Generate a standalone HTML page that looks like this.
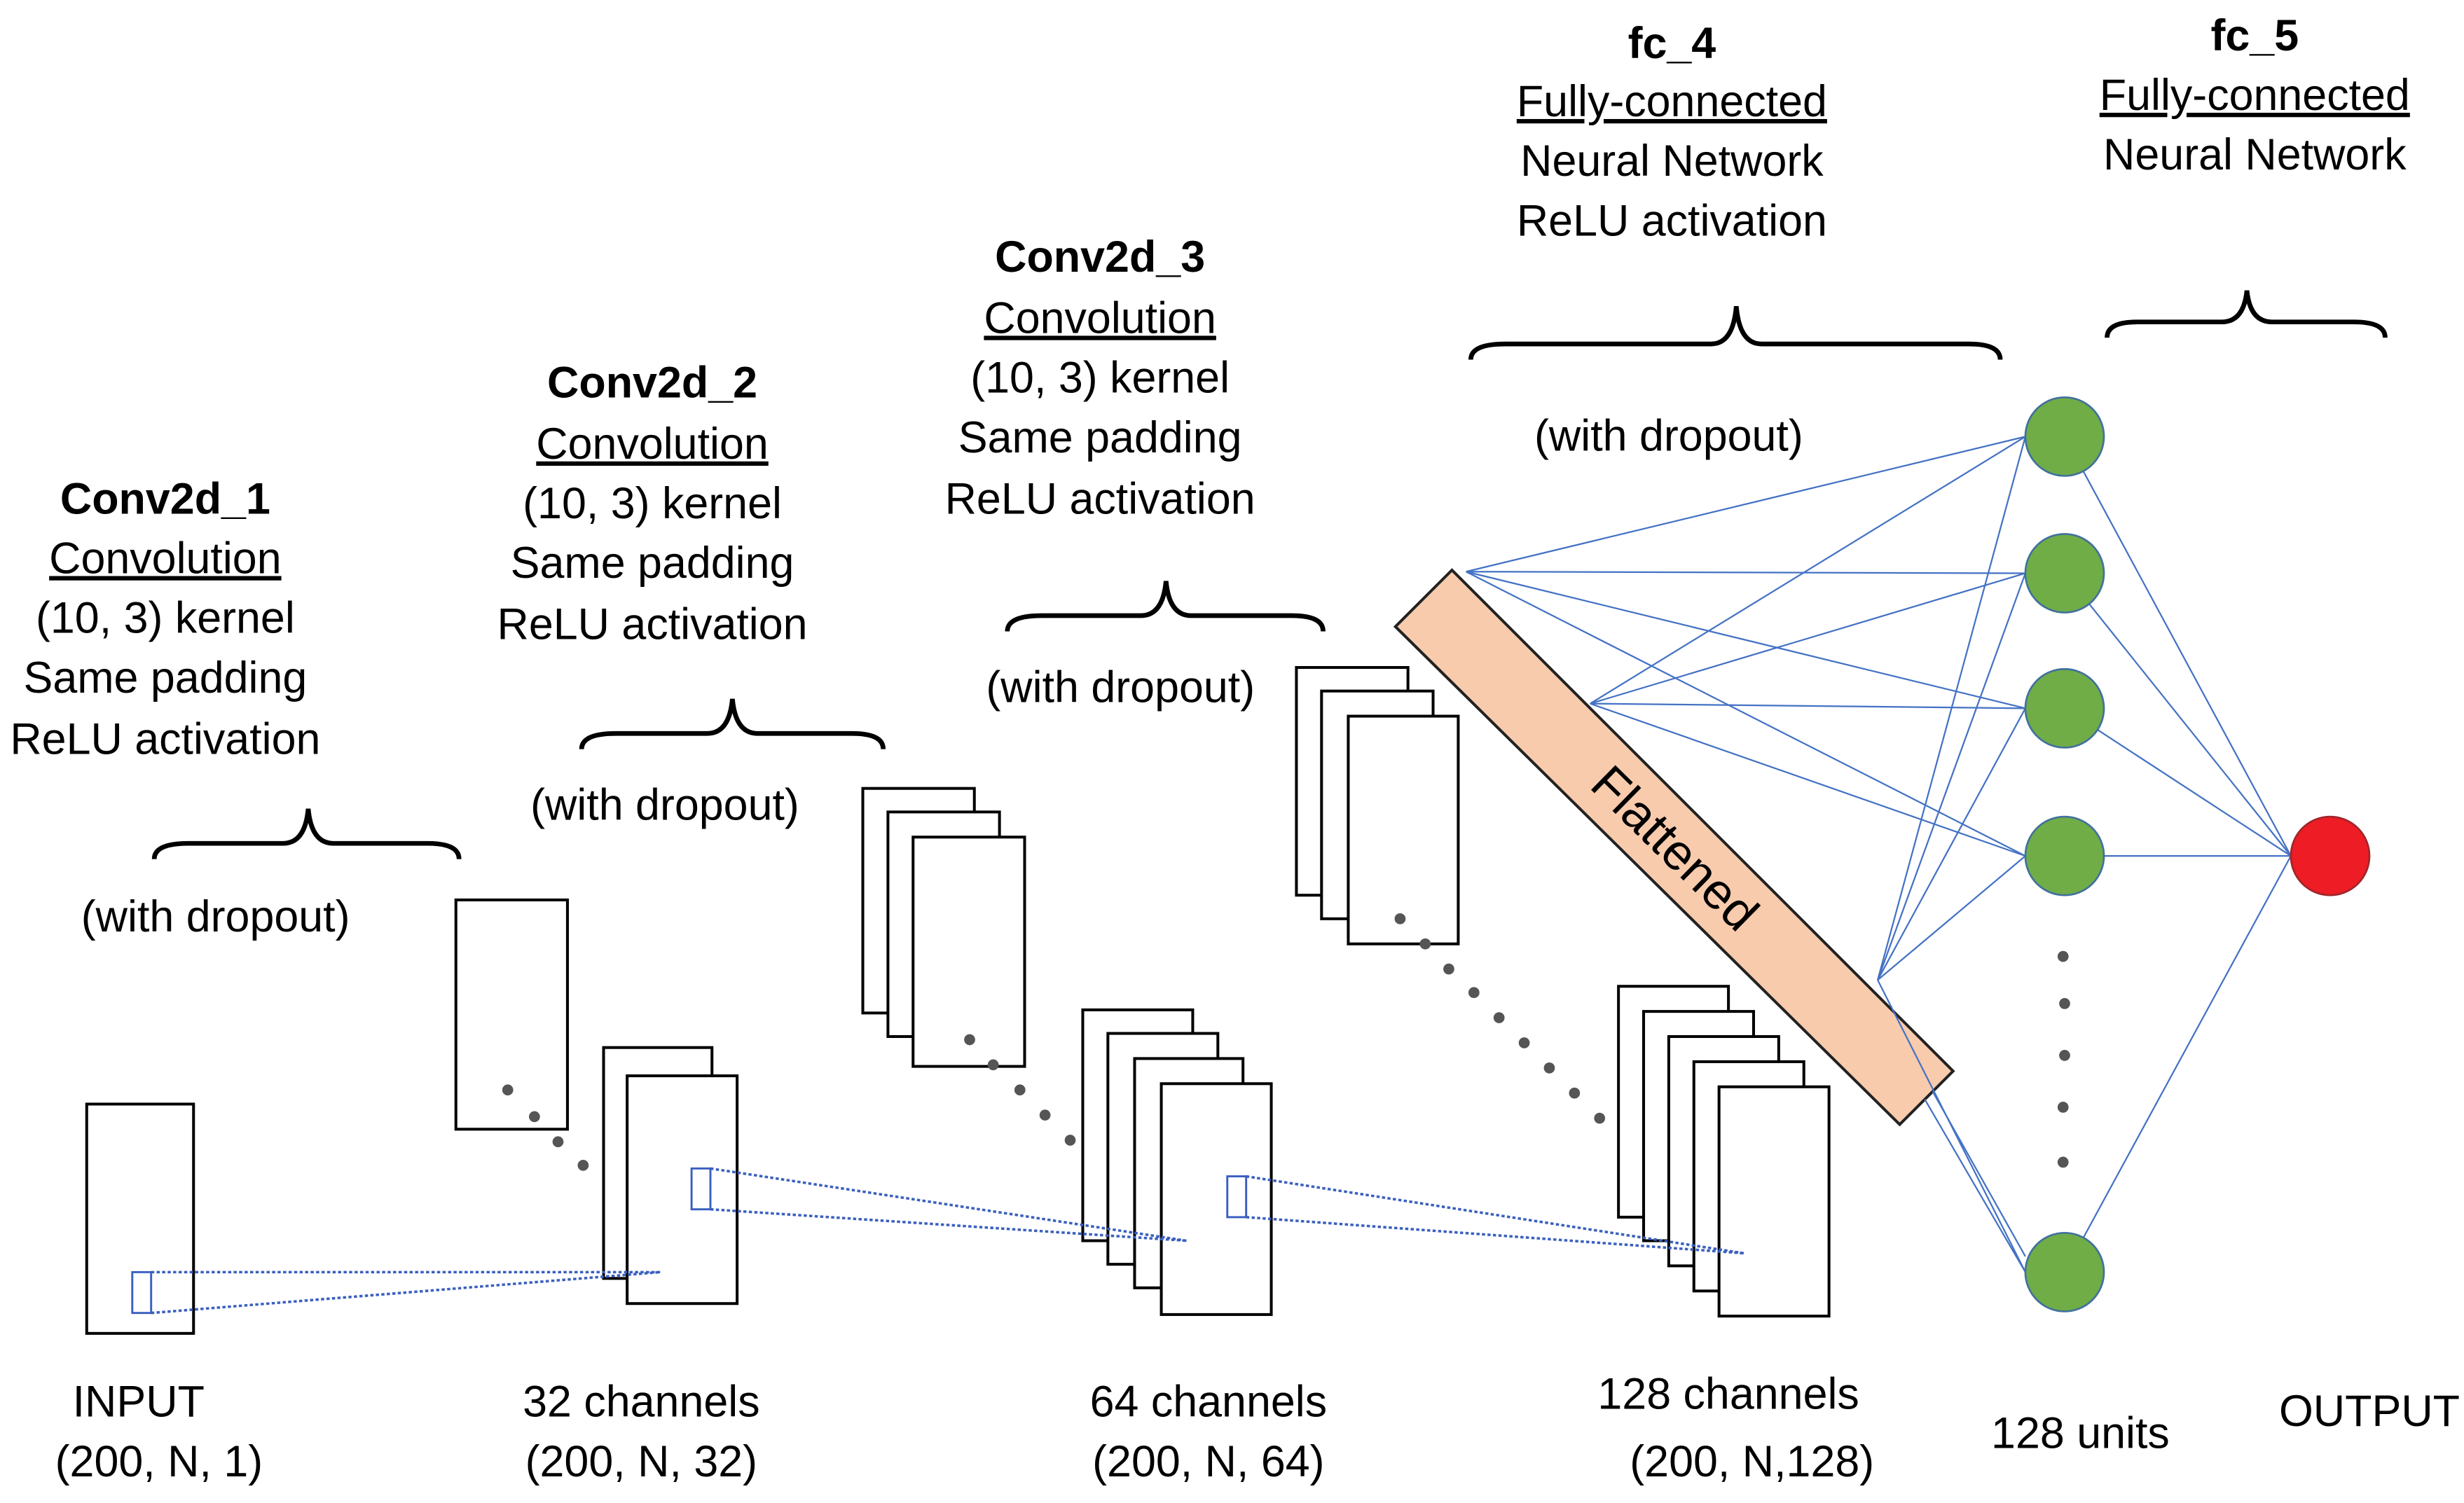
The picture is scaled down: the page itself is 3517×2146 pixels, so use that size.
<!DOCTYPE html>
<html><head><meta charset="utf-8"><style>
html,body{margin:0;padding:0;background:#fff;}
svg{display:block;}
text{font-family:"Liberation Sans",sans-serif;font-size:28px;fill:#000;}
.b{font-weight:bold;}
</style></head><body>
<svg width="3517" height="2146" viewBox="0 0 1568 957" xmlns="http://www.w3.org/2000/svg">
<g text-anchor="middle">
<text x="105" y="327" class="b">Conv2d_1</text>
<text x="105" y="365" text-decoration="underline">Convolution</text>
<text x="105" y="403">(10, 3) kernel</text>
<text x="105" y="441">Same padding</text>
<text x="105" y="480">ReLU activation</text>
<text x="137" y="593">(with dropout)</text>

<text x="415" y="253" class="b">Conv2d_2</text>
<text x="415" y="292" text-decoration="underline">Convolution</text>
<text x="415" y="330">(10, 3) kernel</text>
<text x="415" y="368">Same padding</text>
<text x="415" y="407">ReLU activation</text>
<text x="423" y="522">(with dropout)</text>

<text x="700" y="173" class="b">Conv2d_3</text>
<text x="700" y="212" text-decoration="underline">Convolution</text>
<text x="700" y="250">(10, 3) kernel</text>
<text x="700" y="288">Same padding</text>
<text x="700" y="327">ReLU activation</text>
<text x="713" y="447">(with dropout)</text>

<text x="1064" y="37" class="b">fc_4</text>
<text x="1064" y="74" text-decoration="underline">Fully-connected</text>
<text x="1064" y="112">Neural Network</text>
<text x="1064" y="150">ReLU activation</text>
<text x="1062" y="287">(with dropout)</text>

<text x="1435" y="32" class="b">fc_5</text>
<text x="1435" y="70" text-decoration="underline">Fully-connected</text>
<text x="1435" y="108">Neural Network</text>

<text x="88" y="902">INPUT</text>
<text x="101" y="940">(200, N, 1)</text>
<text x="408" y="902">32 channels</text>
<text x="408" y="940">(200, N, 32)</text>
<text x="769" y="902">64 channels</text>
<text x="769" y="940">(200, N, 64)</text>
<text x="1100" y="897">128 channels</text>
<text x="1115" y="940">(200, N,128)</text>
<text x="1324" y="922">128 units</text>
<text x="1508" y="908">OUTPUT</text>
</g>

<g fill="none" stroke="#000" stroke-width="3">
<path d="M98,547 Q98,537 120,537 L180,537 Q194,537 196,515 Q198,537 212,537 L272,537 Q292,537 292,547"/>
<path d="M370,477 Q370,467 392,467 L450,467 Q464,467 466,445 Q468,467 482,467 L542,467 Q562,467 562,477"/>
<path d="M641,402 Q641,392 663,392 L726,392 Q740,392 742,370 Q744,392 758,392 L822,392 Q842,392 842,402"/>
<path d="M936,229 Q936,219 958,219 L1089,219 Q1103,219 1105,195 Q1107,219 1121,219 L1253,219 Q1273,219 1273,229"/>
<path d="M1341,215 Q1341,205 1360,205 L1414,205 Q1428,205 1430,185 Q1432,205 1446,205 L1498,205 Q1518,205 1518,215"/>
</g>

<g fill="#fff" stroke="#000" stroke-width="1.8">
<rect x="55" y="703" width="68" height="146"/>
<rect x="290" y="573" width="71" height="146"/>
<rect x="384" y="667" width="69" height="147"/>
<rect x="399" y="685" width="70" height="145"/>
<rect x="549" y="502" width="71" height="143"/>
<rect x="565" y="517" width="71" height="143"/>
<rect x="581" y="533" width="71" height="146"/>
<rect x="689" y="643" width="70" height="147"/>
<rect x="705" y="658" width="70" height="147"/>
<rect x="722" y="674" width="69" height="146"/>
<rect x="739" y="690" width="70" height="147"/>
<rect x="825" y="425" width="71" height="145"/>
<rect x="841" y="440" width="71" height="145"/>
<rect x="858" y="456" width="70" height="145"/>
<rect x="1030" y="628" width="70" height="147"/>
<rect x="1046" y="644" width="70" height="146"/>
<rect x="1062" y="660" width="70" height="146"/>
<rect x="1078" y="676" width="70" height="146"/>
<rect x="1094" y="692" width="70" height="146"/>
</g>

<g fill="none" stroke="#3a5fbf" stroke-width="1.3">
<rect x="84" y="810" width="12" height="26"/>
<rect x="440" y="744" width="12" height="26"/>
<rect x="781" y="749" width="12" height="26"/>
<g stroke-dasharray="2,1.5" stroke-width="1.6">
<line x1="96" y1="810" x2="420" y2="810"/>
<line x1="96" y1="836" x2="420" y2="810"/>
<line x1="452" y1="744" x2="755" y2="790"/>
<line x1="452" y1="770" x2="755" y2="790"/>
<line x1="793" y1="749" x2="1110" y2="798"/>
<line x1="793" y1="775" x2="1110" y2="798"/>
</g>
</g>

<g fill="#555">
<circle cx="323" cy="694" r="3.5"/><circle cx="340" cy="711" r="3.5"/><circle cx="355" cy="727" r="3.5"/><circle cx="371" cy="742" r="3.5"/>
<circle cx="617" cy="662" r="3.5"/><circle cx="632" cy="678" r="3.5"/><circle cx="649" cy="694" r="3.5"/><circle cx="665" cy="710" r="3.5"/><circle cx="681" cy="726" r="3.5"/>
<circle cx="891" cy="585" r="3.5"/><circle cx="907" cy="601" r="3.5"/><circle cx="922" cy="617" r="3.5"/><circle cx="938" cy="632" r="3.5"/><circle cx="954" cy="648" r="3.5"/><circle cx="970" cy="664" r="3.5"/><circle cx="986" cy="680" r="3.5"/><circle cx="1002" cy="696" r="3.5"/><circle cx="1018" cy="712" r="3.5"/>
<circle cx="1313" cy="609" r="3.5"/><circle cx="1314" cy="639" r="3.5"/><circle cx="1314" cy="672" r="3.5"/><circle cx="1313" cy="705" r="3.5"/><circle cx="1313" cy="740" r="3.5"/>
</g>

<polygon points="924,363 888,399 1209,716 1243,682" fill="#f8cbad" stroke="#222" stroke-width="1.8"/>
<text x="1066" y="551" text-anchor="middle" transform="rotate(44.5 1066 540)" style="font-size:32px">Flattened</text>

<g stroke="#4472c4" stroke-width="1" fill="none">
<line x1="933" y1="364" x2="1289" y2="278"/>
<line x1="933" y1="364" x2="1289" y2="365"/>
<line x1="933" y1="364" x2="1289" y2="451"/>
<line x1="933" y1="364" x2="1289" y2="545"/>
<line x1="1012" y1="448" x2="1289" y2="278"/>
<line x1="1012" y1="448" x2="1289" y2="365"/>
<line x1="1012" y1="448" x2="1289" y2="451"/>
<line x1="1012" y1="448" x2="1289" y2="545"/>
<line x1="1195" y1="624" x2="1289" y2="278"/>
<line x1="1195" y1="624" x2="1289" y2="365"/>
<line x1="1195" y1="624" x2="1289" y2="451"/>
<line x1="1195" y1="624" x2="1289" y2="545"/>
<line x1="1195" y1="624" x2="1289" y2="810"/>
<line x1="1225" y1="700" x2="1289" y2="810"/>
<line x1="1230" y1="695" x2="1289" y2="800"/>
<line x1="1314" y1="278" x2="1458" y2="545"/>
<line x1="1314" y1="365" x2="1458" y2="545"/>
<line x1="1314" y1="451" x2="1458" y2="545"/>
<line x1="1314" y1="545" x2="1458" y2="545"/>
<line x1="1314" y1="810" x2="1458" y2="545"/>
</g>

<g fill="#70ad47" stroke="#41719c" stroke-width="1.2">
<circle cx="1314" cy="278" r="25"/>
<circle cx="1314" cy="365" r="25"/>
<circle cx="1314" cy="451" r="25"/>
<circle cx="1314" cy="545" r="25"/>
<circle cx="1314" cy="810" r="25"/>
</g>
<circle cx="1483" cy="545" r="25" fill="#ee1c24" stroke="#a0262a" stroke-width="1.2"/>
</svg>
</body></html>
